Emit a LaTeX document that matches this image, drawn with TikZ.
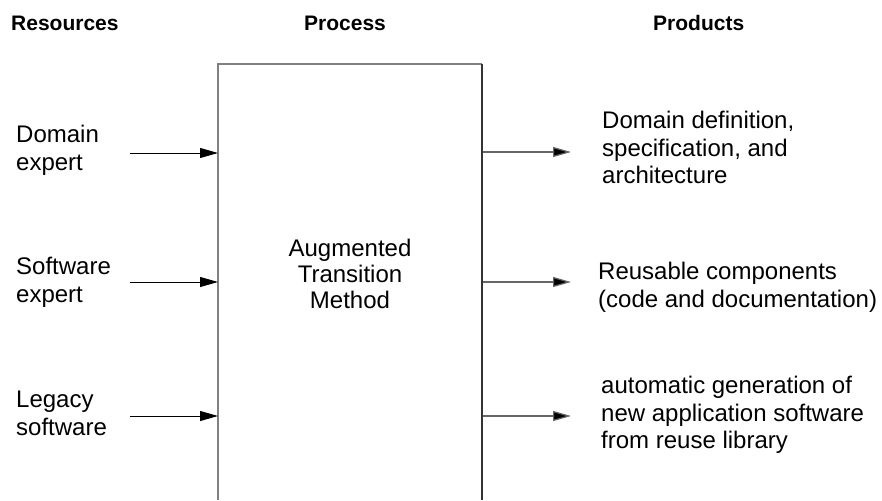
\documentclass[tikz,border=0pt]{standalone}
\usepackage{fontspec}
\setmainfont{Liberation Sans}
\usetikzlibrary{arrows.meta}
\tikzset{
  heading/.style={anchor=base west, inner sep=0pt, font=\fontsize{21}{26}\selectfont\bfseries},
  label/.style={anchor=north west, inner sep=0pt, align=left, font=\fontsize{24}{27.5}\selectfont},
  flowin/.style={draw=black, line width=1pt, -{Triangle[length=18pt,width=10pt]}},
  flowout/.style={draw=black!60, line width=1.2pt, -{Triangle[length=18pt,width=10pt,fill=black]}},
}
\begin{document}
\begin{tikzpicture}[x=1pt, y=-1pt]
\useasboundingbox (0,0) rectangle (882,500);

% column headings
\node[heading] (hres)  at (11,31)  {Resources};
\node[heading] (hproc) at (304,31) {Process};
\node[heading] (hprod) at (653,31) {Products};

% the process box, open at the bottom
\coordinate (bl) at (218,500);
\coordinate (tl) at (218,64);
\coordinate (tr) at (482,64);
\coordinate (br) at (482,500);
\draw[gray, line width=2pt] (bl) -- (tl) -- (tr);
\draw[black!80, line width=1.5pt] (tr) -- (br);
\node[anchor=north, inner sep=0pt, align=center, font=\fontsize{24}{26}\selectfont] (proc) at (350,239) {Augmented\\Transition\\Method};

% resources
\node[label] (r1) at (16,125) {Domain\\expert};
\node[label] (r2) at (16,257) {Software\\expert};
\node[label] (r3) at (16,391) {Legacy\\software};

% products
\node[label] (p1) at (602,111) {Domain definition,\\specification, and\\architecture};
\node[label] (p2) at (598,262) {Reusable components\\(code and documentation)};
\node[label] (p3) at (601,376) {automatic generation of\\new application software\\from reuse library};

% connector end points
\coordinate (a1) at (130,153); \coordinate (b1) at (218,153);
\coordinate (a2) at (130,282); \coordinate (b2) at (218,282);
\coordinate (a3) at (130,416); \coordinate (b3) at (218,416);
\coordinate (c1) at (483,152); \coordinate (d1) at (571,152);
\coordinate (c2) at (483,282); \coordinate (d2) at (571,282);
\coordinate (c3) at (483,416); \coordinate (d3) at (571,416);

\draw[flowin] (a1) -- (b1);
\draw[flowin] (a2) -- (b2);
\draw[flowin] (a3) -- (b3);
\draw[flowout] (c1) -- (d1);
\draw[flowout] (c2) -- (d2);
\draw[flowout] (c3) -- (d3);
\end{tikzpicture}
\end{document}
